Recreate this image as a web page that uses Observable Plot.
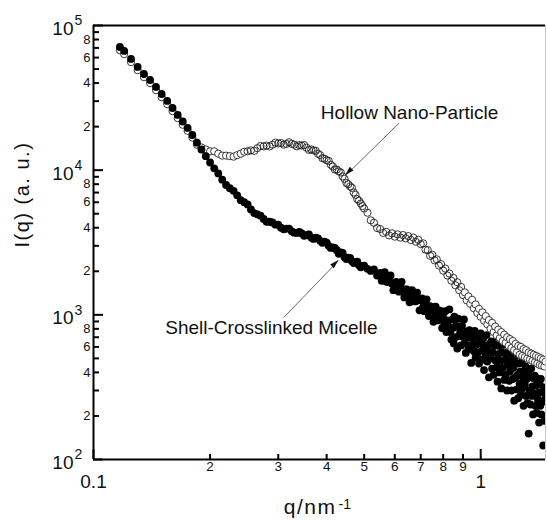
<!DOCTYPE html>
<html>
<head>
<meta charset="utf-8">
<script src="https://cdn.jsdelivr.net/npm/d3@7"></script>
<script src="https://cdn.jsdelivr.net/npm/@observablehq/plot@0.6"></script>
<style>
  html, body { margin: 0; padding: 0; background: #fff; }
  #chart svg { display: block; }
</style>
</head>
<body>
<div id="chart"></div>
<script>
// ---- Data: [q (nm^-1), I(q) (a.u.)] ----
const micelle = [
  [0.117,71000],[0.120,66700],[0.125,58700],[0.130,51700],[0.135,46200],[0.140,42000],[0.145,37600],
  [0.150,33600],[0.155,30100],[0.160,26900],[0.165,24100],[0.170,21700],[0.175,19600],[0.180,17500],
  [0.185,15500],[0.190,13900],[0.195,12500],
  [0.200,11300],[0.205,10300],[0.210,9500],[0.215,8600],[0.220,7900],[0.225,7500],[0.230,7200],
  [0.235,6700],[0.240,6200],[0.245,6000],[0.250,5800],[0.255,5350],[0.260,5050],[0.265,4950],
  [0.270,4850],[0.275,4600],[0.280,4400],[0.285,4400],[0.290,4350],[0.295,4200],[0.300,4200],
  [0.305,4000],[0.310,3900],[0.315,3950],[0.320,3950],[0.325,3780],[0.330,3700],[0.335,3680],
  [0.340,3750],[0.345,3650],[0.350,3520],[0.355,3560],[0.360,3600],[0.365,3420],[0.370,3350],
  [0.375,3420],[0.380,3380],[0.385,3250],[0.390,3150],[0.395,3200],[0.400,3150],[0.405,3000],
  [0.410,2900],[0.415,2920],[0.420,2900],[0.425,2800],[0.430,2640],[0.435,2700],[0.440,2680],
  [0.445,2500],[0.450,2430],[0.455,2480],[0.460,2470],[0.465,2350],[0.470,2280],[0.475,2320],
  [0.480,2330],[0.485,2200],[0.490,2130],[0.495,2180],
  [0.50,2190],[0.51,2080],[0.52,2010],[0.53,2060],[0.54,1870],[0.55,1950],[0.555,1720],[0.56,1860],
  [0.565,1970],[0.57,1700],[0.575,1685],[0.58,1780],[0.585,1870],[0.59,1640],[0.595,1480],[0.60,1650],
  [0.605,1690],[0.61,1540],[0.615,1445],[0.62,1590],[0.625,1690],[0.63,1450],[0.635,1320],[0.64,1500],
  [0.645,1500],[0.65,1440],[0.655,1220],[0.66,1330],[0.665,1480],[0.67,1390],[0.675,1240],[0.68,1240],
  [0.685,1425],[0.69,1300],[0.695,1075],[0.70,1260],[0.705,1300],[0.71,1130],[0.715,1060],[0.72,1210],
  [0.725,1280],[0.73,1060],[0.735,980],[0.74,1150],[0.745,1135],[0.75,1000],[0.755,895],[0.76,1080],
  [0.765,1140],[0.77,960],[0.775,915],[0.78,1020],[0.785,1070],[0.79,930],[0.795,810],
  [0.800,1010],[0.805,850],[0.810,1060],[0.815,760],[0.820,915],[0.825,840],[0.830,1090],[0.835,760],
  [0.840,675],[0.845,930],[0.850,815],[0.852,634],[0.855,970],[0.860,700],[0.865,840],[0.870,585],
  [0.875,940],[0.880,715],[0.885,760],[0.890,615],[0.895,840],[0.900,705],[0.905,930],[0.910,640],
  [0.915,545],[0.920,765],[0.925,700],[0.930,580],[0.935,785],[0.940,615],[0.945,465],[0.950,735],
  [0.955,675],[0.960,560],[0.965,775],[0.970,505],[0.975,620],[0.980,705],[0.985,550],[0.990,460],
  [0.995,635],[1.000,745],[1.005,490],[1.010,565],[1.015,690],[1.020,415],[1.025,615],[1.030,520],
  [1.035,725],[1.040,475],[1.045,565],[1.050,370],[1.055,630],[1.060,500],[1.065,655],[1.070,425],
  [1.075,550],[1.080,385],[1.085,615],[1.090,485],[1.095,660],[1.100,435],[1.105,345],[1.110,535],
  [1.115,610],[1.120,400],[1.125,480],[1.130,310],[1.135,550],[1.140,430],[1.145,620],[1.150,355],
  [1.155,490],[1.160,385],[1.165,540],[1.170,300],[1.175,450],[1.180,560],[1.185,350],[1.190,405],
  [1.195,480],[1.200,300],[1.205,515],[1.210,360],[1.215,430],[1.220,255],[1.225,470],[1.230,370],
  [1.235,525],[1.240,305],[1.245,385],[1.250,265],[1.255,460],[1.260,335],[1.265,405],[1.270,280],
  [1.275,470],[1.280,310],[1.285,370],[1.290,235],[1.295,405],[1.300,330],[1.305,440],[1.310,275],
  [1.315,360],[1.320,245],[1.325,400],[1.330,151],[1.335,300],[1.340,370],[1.345,240],[1.350,425],
  [1.355,275],[1.360,320],[1.365,205],[1.370,365],[1.375,285],[1.380,380],[1.385,235],[1.390,325],
  [1.395,210],[1.400,360],[1.405,260],[1.410,290],[1.415,180],[1.420,330],[1.425,235],[1.430,360],
  [1.435,205],[1.440,290],[1.445,250],[1.450,125],[1.455,315],[1.460,185],[1.465,260],[1.470,290]
];

const hollow = [
  [0.117,67500],[0.120,63400],[0.125,55800],[0.130,49100],[0.135,43900],[0.140,39900],[0.145,35700],
  [0.150,31900],[0.155,28600],[0.160,25600],[0.165,22900],[0.170,20600],[0.175,18700],[0.180,16800],
  [0.185,15000],[0.190,14350],[0.195,13900],
  [0.200,13500],[0.205,13500],[0.210,13000],[0.215,12600],[0.220,12600],[0.225,12500],[0.230,12400],
  [0.235,12700],[0.240,13000],[0.245,13400],[0.250,13500],[0.255,13700],[0.260,13600],[0.265,14200],
  [0.270,14700],[0.275,14600],[0.280,14800],[0.285,14600],[0.290,15000],[0.295,15500],[0.300,15300],
  [0.305,15400],[0.310,15000],[0.315,15200],[0.320,15600],[0.325,15200],[0.330,15000],[0.335,14600],
  [0.340,14900],[0.345,14800],[0.350,14900],[0.355,14300],[0.360,13800],[0.365,13900],[0.370,13700],
  [0.375,13600],[0.380,13000],[0.385,12700],[0.390,12100],[0.395,12000],[0.400,11700],[0.405,11600],
  [0.410,10900],[0.415,10600],[0.420,10100],[0.425,10100],[0.430,9800],[0.435,9650],[0.440,9050],
  [0.445,8700],[0.450,8150],[0.455,8000],[0.460,7720],[0.465,7550],[0.470,7010],[0.475,6750],
  [0.480,6300],[0.485,6150],[0.490,5890],[0.495,5650],
  [0.50,5430],[0.51,5080],[0.52,4500],[0.53,4330],[0.54,3980],[0.55,3920],[0.56,3680],[0.57,3750],
  [0.58,3540],[0.59,3660],[0.60,3470],[0.61,3600],[0.62,3420],[0.63,3560],[0.64,3380],[0.65,3500],
  [0.66,3290],[0.67,3420],[0.68,3200],[0.69,3300],[0.70,3080],[0.71,3120],[0.72,2820],[0.73,2800],
  [0.74,2560],[0.75,2600],[0.76,2380],[0.77,2420],[0.78,2190],[0.79,2240],[0.80,2020],[0.81,2090],
  [0.82,1870],[0.83,1930],[0.84,1720],[0.85,1800],[0.86,1600],[0.87,1680],[0.88,1480],[0.89,1560],
  [0.90,1370],[0.91,1430],[0.92,1260],[0.93,1340],[0.94,1190],[0.95,1270],[0.96,1110],[0.97,1180],
  [0.98,1030],[0.99,1100],[1.00,970],[1.01,1040],[1.02,910],[1.03,980],[1.04,860],[1.05,920],
  [1.06,800],[1.07,880],[1.08,760],[1.09,830],[1.10,720],[1.11,790],[1.12,690],[1.13,760],
  [1.14,660],[1.15,730],[1.16,640],[1.17,700],[1.18,610],[1.19,680],[1.20,590],[1.21,660],
  [1.22,570],[1.23,630],[1.24,550],[1.25,610],[1.26,530],[1.27,600],[1.28,520],[1.29,580],
  [1.30,510],[1.31,570],[1.32,500],[1.33,550],[1.34,490],[1.35,540],[1.36,480],[1.37,530],
  [1.38,470],[1.39,520],[1.40,460],[1.41,510],[1.42,450],[1.43,500],[1.44,445],[1.45,490],
  [1.46,440],[1.47,475]
];

// ---- Axes ----
const xDomain = [0.1, 1.47];
const yDomain = [100, 100000];
const xMajorTicks = [0.1, 1];
const xMajorLabels = ["0.1", "1"];
const xMinorTicks = [0.2, 0.3, 0.4, 0.5, 0.6, 0.7, 0.8, 0.9];
const xMinorLabels = ["2", "3", "4", "5", "6", "7", "8", "9"];
const yMajorTicks = [100, 1000, 10000, 100000];
const yMajorBase = ["10", "10", "10", "10"];
const yMajorExponents = ["2", "3", "4", "5"];
const yMinorTicks = [200,300,400,500,600,700,800,900,
                     2000,3000,4000,5000,6000,7000,8000,9000,
                     20000,30000,40000,50000,60000,70000,80000,90000];
const yMinorLabeled = [200,400,600,800, 2000,4000,6000,8000, 20000,40000,60000,80000];
const yMinorLabels = ["2","4","6","8", "2","4","6","8", "2","4","6","8"];
const yTitle = ["I(q) (a. u.)"];
const xTitle = ["q/nm"];
const xTitleExponent = ["-1"];

// ---- Annotations (data coordinates) ----
const annotationText = ["Hollow Nano-Particle", "Shell-Crosslinked Micelle"];
const annotationTextQ = [0.655, 0.288];
const annotationTextI = [25050, 818];
const arrowFromQ = [0.614, 0.310];
const arrowFromI = [21000, 959];
const arrowToQ = [0.448, 0.430];
const arrowToI = [9190, 2377];

const W = 547, H = 524;
const M = {left: 93, right: 2, top: 25, bottom: 65};
const frameW = W - M.left - M.right;
const frameH = H - M.top - M.bottom;

function arrowHeads(index, scales) {
  const g = d3.create("svg:g");
  arrowToQ.forEach((q, i) => {
    const x2 = scales.x(q), y2 = scales.y(arrowToI[i]);
    const x1 = scales.x(arrowFromQ[i]), y1 = scales.y(arrowFromI[i]);
    const a = Math.atan2(y2 - y1, x2 - x1);
    const L = 9, hw = 2.6;
    const bx = x2 - L * Math.cos(a), by = y2 - L * Math.sin(a);
    const px = -Math.sin(a) * hw, py = Math.cos(a) * hw;
    g.append("path")
      .attr("d", `M${x2},${y2}L${bx + px},${by + py}L${bx - px},${by - py}Z`)
      .attr("fill", "#111");
  });
  return g.node();
}

const xy = {x: d => d[0], y: d => d[1]};
const ringStyle = {r: 3.6, stroke: "#222", strokeWidth: 0.9, clip: true};

const chart = Plot.plot({
  width: W,
  height: H,
  marginLeft: M.left,
  marginRight: M.right,
  marginTop: M.top,
  marginBottom: M.bottom,
  style: {fontFamily: "'Liberation Sans', Arial, sans-serif", background: "#fff", color: "#111"},
  x: {type: "log", domain: xDomain, axis: null},
  y: {type: "log", domain: yDomain, axis: null},
  marks: [
    // data: hollow rings under the micelle at low q, over it at high q
    Plot.dot(hollow.filter(d => d[0] < 0.25), {...xy, ...ringStyle, fill: "white"}),
    Plot.dot(micelle, {...xy, r: 3.9, fill: "#000", clip: true}),
    Plot.dot(hollow.filter(d => d[0] >= 0.25 && d[0] < 0.9), {...xy, ...ringStyle, fill: "none"}),
    Plot.dot(hollow.filter(d => d[0] >= 0.9), {...xy, ...ringStyle, fill: "white"}),

    // frame
    Plot.ruleX([xDomain[1]], {stroke: "#c8c8c8", strokeWidth: 1}),
    Plot.ruleX([xDomain[0]], {stroke: "#000", strokeWidth: 2}),
    Plot.ruleY([yDomain[0]], {stroke: "#000", strokeWidth: 2}),
    Plot.ruleY([yDomain[1]], {stroke: "#000", strokeWidth: 2}),

    // inward ticks
    Plot.ruleY(yMinorTicks, {y: d => d, insetRight: frameW - 6, stroke: "#000", strokeWidth: 2}),
    Plot.ruleY(yMajorTicks, {y: d => d, insetRight: frameW - 10, stroke: "#000", strokeWidth: 2}),
    Plot.ruleX(xMinorTicks, {x: d => d, insetTop: frameH - 5, stroke: "#000", strokeWidth: 2}),
    Plot.ruleX(xMajorTicks, {x: d => d, insetTop: frameH - 10, stroke: "#000", strokeWidth: 2}),

    // tick labels
    Plot.text(yMajorTicks, {y: d => d, frameAnchor: "left", text: (d, i) => yMajorBase[i],
      textAnchor: "end", dx: -20, dy: 3.5, fontSize: 19, fill: "#111"}),
    Plot.text(yMajorTicks, {y: d => d, frameAnchor: "left", text: (d, i) => yMajorExponents[i],
      textAnchor: "start", dx: -19, dy: -4.5, fontSize: 14, fill: "#111"}),
    Plot.text(yMinorLabeled, {y: d => d, frameAnchor: "left", text: (d, i) => yMinorLabels[i],
      textAnchor: "end", dx: -3, fontSize: 13, fill: "#111"}),
    Plot.text(xMinorTicks, {x: d => d, frameAnchor: "bottom", text: (d, i) => xMinorLabels[i],
      dy: 11, fontSize: 13.5, fill: "#111"}),
    Plot.text(xMajorTicks, {x: d => d, frameAnchor: "bottom", text: (d, i) => xMajorLabels[i],
      dy: 28, fontSize: 19, fill: "#111"}),

    // axis titles
    Plot.text(yTitle, {frameAnchor: "left", rotate: -90, dx: -71, dy: 5, fontSize: 20, fill: "#111"}),
    Plot.text(xTitle, {frameAnchor: "bottom", textAnchor: "end", dx: 17, dy: 54, fontSize: 21, fill: "#111"}),
    Plot.text(xTitleExponent, {frameAnchor: "bottom", textAnchor: "start", dx: 19, dy: 49, fontSize: 14, fill: "#111"}),

    // annotations
    Plot.link(arrowFromQ, {x1: (d, i) => arrowFromQ[i], y1: (d, i) => arrowFromI[i],
      x2: (d, i) => arrowToQ[i], y2: (d, i) => arrowToI[i], stroke: "#555", strokeWidth: 0.9}),
    arrowHeads,
    Plot.text(annotationText, {x: (d, i) => annotationTextQ[i], y: (d, i) => annotationTextI[i],
      fontSize: 19, fill: "#111"})
  ]
});

d3.select(chart).selectAll("text")
  .filter(function () { return this.textContent === yTitle[0]; })
  .attr("letter-spacing", "1.5px");
d3.select(chart).selectAll("text")
  .filter(function () { return this.textContent === xTitle[0]; })
  .attr("letter-spacing", "1.5px");

document.getElementById("chart").appendChild(chart);
</script>
</body>
</html>
